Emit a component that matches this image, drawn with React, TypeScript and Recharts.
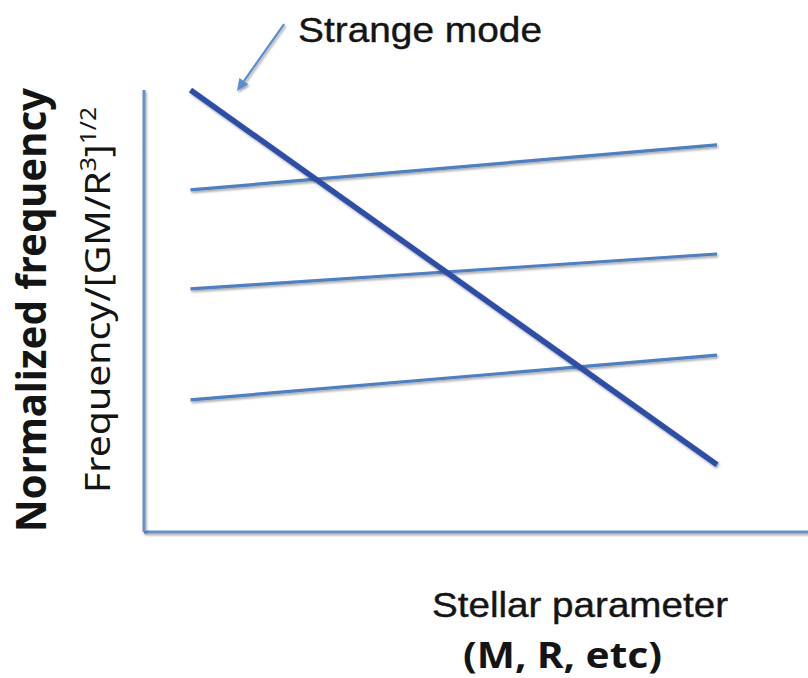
import React from 'react';
import { LineChart, Line, XAxis, YAxis, ReferenceLine } from 'recharts';

// stellar parameter positions where each mode track is sampled
const paramPoints = [0.7, 8.63];

// normalized frequency of the three ordinary modes and the strange mode
const upperMode = [7.74, 8.76];
const middleMode = [5.5, 6.29];
const lowerMode = [2.99, 4.0];
const strangeMode = [10.0, 1.52];

// annotation arrow pointing at the strange mode (tail, then head)
const arrowFrom = { x: 2.11, y: 11.49 };
const arrowTo = { x: 1.4, y: 9.98 };

const colors = {
    axis: '#6690c6',
    mode: '#4f7fbf',
    strange: '#2f4ea6',
    arrow: '#5b8dcc',
    text: '#141414'
};

const data = paramPoints.map((p, i) => ({
    p,
    upper: upperMode[i],
    middle: middleMode[i],
    lower: lowerMode[i],
    strange: strangeMode[i]
}));

const ArrowShape = (props: any) => {
    const { x1, y1, x2, y2 } = props;
    const dx = x2 - x1;
    const dy = y2 - y1;
    const len = Math.sqrt(dx * dx + dy * dy);
    const ux = dx / len;
    const uy = dy / len;
    const headLen = 12;
    const headW = 5.5;
    const bx = x2 - ux * headLen;
    const by = y2 - uy * headLen;
    return (
        <g filter="url(#softShadow)">
            <line x1={x1} y1={y1} x2={bx} y2={by} stroke={colors.arrow} strokeWidth={2.2} />
            <polygon
                points={`${x2},${y2} ${bx - uy * headW},${by + ux * headW} ${bx + uy * headW},${by - ux * headW}`}
                fill={colors.arrow}
            />
        </g>
    );
};

export default function App() {
    return (
        <div style={{ position: 'absolute', left: 0, top: 0, width: 808, height: 678, background: '#fff' }}>
            {/* axes get 1px of room each; a zero-size axis is not drawn */}
            <LineChart width={808} height={678} data={data} margin={{ top: 90, right: 0, left: 143, bottom: 145 }}>
                <defs>
                    <filter id="softShadow" filterUnits="userSpaceOnUse" x={0} y={0} width={808} height={678}>
                        <feDropShadow dx={1.2} dy={1.8} stdDeviation={0.9} floodColor="#000" floodOpacity={0.35} />
                    </filter>
                </defs>
                <XAxis
                    dataKey="p"
                    type="number"
                    domain={[0, 10]}
                    height={1}
                    tick={false}
                    tickLine={false}
                    axisLine={{ stroke: colors.axis, strokeWidth: 3, filter: 'url(#softShadow)' }}
                />
                <YAxis
                    type="number"
                    domain={[0, 10]}
                    width={1}
                    tick={false}
                    tickLine={false}
                    axisLine={{ stroke: colors.axis, strokeWidth: 3, filter: 'url(#softShadow)' }}
                />
                <Line dataKey="upper" stroke={colors.mode} strokeWidth={3.2} dot={false} filter="url(#softShadow)" isAnimationActive={false} />
                <Line dataKey="middle" stroke={colors.mode} strokeWidth={3.2} dot={false} filter="url(#softShadow)" isAnimationActive={false} />
                <Line dataKey="lower" stroke={colors.mode} strokeWidth={3.2} dot={false} filter="url(#softShadow)" isAnimationActive={false} />
                <Line dataKey="strange" stroke={colors.strange} strokeWidth={5.5} dot={false} filter="url(#softShadow)" isAnimationActive={false} />
                <ReferenceLine
                    segment={[arrowFrom, arrowTo]}
                    ifOverflow="visible"
                    shape={<ArrowShape />}
                />
                <text x={298} y={42} fontFamily="'Liberation Sans', Arial, sans-serif" fontSize={35} textLength={244} lengthAdjust="spacingAndGlyphs" fill={colors.text} stroke={colors.text} strokeWidth={0.4}>
                    Strange mode
                </text>
                <text
                    transform="translate(46,532) rotate(-90)"
                    fontFamily="'Noto Sans', sans-serif"
                    fontWeight={700}
                    fontSize={42}
                    textLength={444}
                    lengthAdjust="spacingAndGlyphs"
                    fill={colors.text}
                >
                    Normalized frequency
                </text>
                <text
                    transform="translate(110,493) rotate(-90) scale(1.12,1)"
                    fontFamily="'Noto Sans', sans-serif"
                    fontSize={35}
                    fill={colors.text}
                >
                    Frequency/[GM/R
                    <tspan fontSize={22} dy={-14}>3</tspan>
                    <tspan fontSize={35} dy={14}>]</tspan>
                    <tspan fontSize={22} dy={-14}>1/2</tspan>
                </text>
                <text x={432} y={617} fontFamily="'Liberation Sans', Arial, sans-serif" fontSize={35} textLength={296} lengthAdjust="spacingAndGlyphs" fill={colors.text} stroke={colors.text} strokeWidth={0.4}>
                    Stellar parameter
                </text>
                <text x={463} y={668} fontFamily="'Noto Sans', sans-serif" fontWeight={700} fontSize={36} textLength={199} lengthAdjust="spacingAndGlyphs" fill={colors.text}>
                    (M, R, etc)
                </text>
            </LineChart>
        </div>
    );
}
